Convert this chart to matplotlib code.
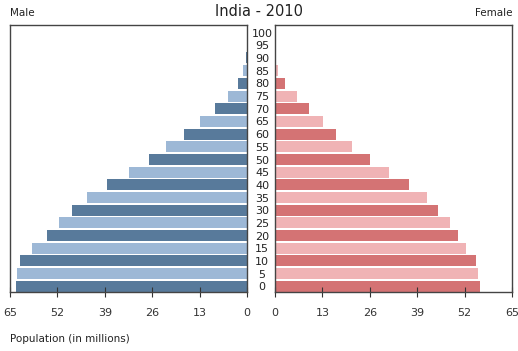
import matplotlib.pyplot as plt
import numpy as np

ages = [0, 5, 10, 15, 20, 25, 30, 35, 40, 45, 50, 55, 60, 65, 70, 75, 80, 85, 90, 95, 100]
male = [63.4, 63.1, 62.3, 59.0, 54.8, 51.5, 48.0, 44.0, 38.4, 32.5, 27.0, 22.1, 17.2, 12.9, 8.7, 5.3, 2.6, 1.0, 0.3, 0.1, 0.02]
female = [56.2, 55.6, 55.2, 52.5, 50.3, 47.9, 44.8, 41.8, 36.8, 31.2, 26.0, 21.2, 16.8, 13.3, 9.4, 6.0, 2.8, 0.9, 0.3, 0.08, 0.02]
ticks = [0, 13, 26, 39, 52, 65]

male_colors = ['#587a9b', '#9db8d6']
female_colors = ['#d47374', '#f0b3b5']

fig = plt.figure(figsize=(5.18, 3.51), dpi=100)
ax_m = fig.add_axes([10 / 518, 1 - 292 / 351, 237 / 518, 267 / 351])
ax_f = fig.add_axes([275 / 518, 1 - 292 / 351, 237 / 518, 267 / 351])

y = np.arange(len(ages))
ax_m.barh(y, male, height=0.87, color=[male_colors[i % 2] for i in y])
ax_f.barh(y, female, height=0.87, color=[female_colors[i % 2] for i in y])

for ax in (ax_m, ax_f):
    ax.set_xlim(0, 65)
    ax.set_ylim(-0.45, 20.6)
    ax.set_yticks([])
    ax.set_xticks(ticks)
    ax.set_xticklabels([str(t) for t in ticks])
    ax.tick_params(axis='x', direction='inout', length=7, labelsize=8, colors='#333333', pad=8)
    for s in ax.spines.values():
        s.set_color('#444444')
        s.set_linewidth(1.0)
ax_m.invert_xaxis()

# age labels between the two halves
for i, a in enumerate(ages):
    fig.text(262 / 518, ax_m.transData.transform((0, i))[1] / fig.bbox.height - 0.003,
             str(a), ha='center', va='center', fontsize=8, color='#222222')

fig.text(0.5, 1 - 11 / 351, 'India - 2010', ha='center', va='center', fontsize=10.5, color='#222222')
fig.text(10 / 518, 1 - 13 / 351, 'Male', ha='left', va='center', fontsize=7.5, color='#222222')
fig.text(512 / 518, 1 - 13 / 351, 'Female', ha='right', va='center', fontsize=7.5, color='#222222')
fig.text(10 / 518, 1 - 339 / 351, 'Population (in millions)', ha='left', va='center', fontsize=7.5, color='#222222')

fig.savefig('out.png', dpi=100)
